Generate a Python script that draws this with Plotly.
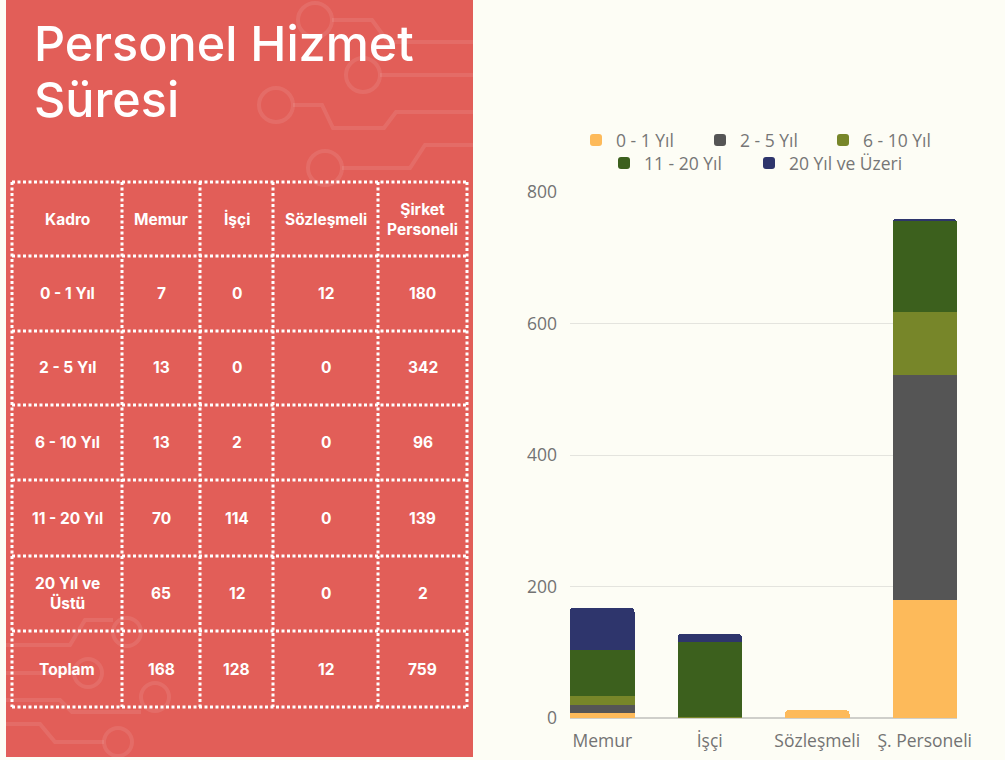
import plotly.graph_objects as go

W, H = 1005, 760

# ---------------- data ----------------
categories = ["Memur", "İşçi", "Sözleşmeli", "Ş. Personeli"]
groups = ["0 - 1 Yıl", "2 - 5 Yıl", "6 - 10 Yıl", "11 - 20 Yıl", "20 Yıl ve Üzeri"]
v_0_1 = [7, 0, 12, 180]
v_2_5 = [13, 0, 0, 342]
v_6_10 = [13, 2, 0, 96]
v_11_20 = [70, 114, 0, 139]
v_20_plus = [65, 12, 0, 2]
series = [v_0_1, v_2_5, v_6_10, v_11_20, v_20_plus]
colors = ["#FDBA5A", "#555555", "#778629", "#3C601D", "#2E356C"]

table_header = ["Kadro", "Memur", "İşçi", "Sözleşmeli", "Şirket<br>Personeli"]
table_rows = ["0 - 1 Yıl", "2 - 5 Yıl", "6 - 10 Yıl", "11 - 20 Yıl", "20 Yıl ve<br>Üstü", "Toplam"]

title_lines = ["Personel Hizmet", "Süresi"]

# --------------- helpers --------------
def px(x):
    return x / W

def py(y):
    return 1 - y / H

legend_ids = ["legend", "legend2", "legend3", "legend4", "legend5"]
legend_pos = [(576, 140), (700, 140), (823, 140), (604, 163), (749, 163)]

fig = go.Figure()

for i, (name, vals, col) in enumerate(zip(groups, series, colors)):
    fig.add_trace(go.Bar(
        x=categories, y=vals, name=name,
        marker=dict(color=col, line=dict(width=0)),
        width=0.6,
        legend=legend_ids[i],
        hoverinfo="x+y+name",
    ))

shapes = []
annotations = []

# red panel
shapes.append(dict(type="rect", xref="paper", yref="paper",
                   x0=px(6), x1=px(473), y0=py(757), y1=py(0),
                   fillcolor="#E25E58", line=dict(width=0), layer="below"))

# faint circuit decoration
deco = dict(color="rgba(255,255,255,0.09)", width=4)

def circ(cx, cy, r):
    shapes.append(dict(type="circle", xref="paper", yref="paper",
                       x0=px(cx - r), x1=px(cx + r), y0=py(cy + r), y1=py(cy - r),
                       line=deco, layer="below"))

def poly(pts):
    d = "M " + " L ".join(f"{px(x)},{py(y)}" for x, y in pts)
    shapes.append(dict(type="path", xref="paper", yref="paper", path=d,
                       line=deco, layer="below"))

circ(315, 20, 17); poly([(332, 20), (372, 20), (388, 42), (473, 42)])
circ(363, 75, 17); poly([(380, 75), (473, 75)])
circ(276, 105, 17); poly([(293, 105), (322, 105), (333, 128), (384, 128), (396, 112), (473, 112)])
circ(325, 168, 17); poly([(342, 168), (410, 168), (425, 145), (473, 145)])
circ(127, 632, 14); poly([(6, 645), (70, 645), (85, 620), (113, 620)])
circ(88, 673, 14); poly([(6, 673), (74, 673)])
circ(155, 697, 14); poly([(6, 700), (60, 700), (72, 712), (141, 712)])
circ(118, 742, 14); poly([(6, 724), (40, 724), (55, 742), (104, 742)])

# table grid
col_x = [12, 122, 200, 273, 378, 467]
row_y = [182, 256, 331, 405, 480, 556, 631, 707]
grid = dict(color="white", width=3, dash="3px,2.5px")
for x in col_x:
    shapes.append(dict(type="line", xref="paper", yref="paper",
                       x0=px(x), x1=px(x), y0=py(row_y[0]), y1=py(row_y[-1]), line=grid))
for y in row_y:
    shapes.append(dict(type="line", xref="paper", yref="paper",
                       x0=px(col_x[0]), x1=px(col_x[-1]), y0=py(y), y1=py(y), line=grid))

cell_font = dict(family="Inter, Roboto, sans-serif", size=15.5, color="white", weight=700)

def cell(text, ci, ri):
    cx = (col_x[ci] + col_x[ci + 1]) / 2
    cy = (row_y[ri] + row_y[ri + 1]) / 2
    annotations.append(dict(text=text, x=px(cx), y=py(cy), xref="paper", yref="paper",
                            showarrow=False, xanchor="center", yanchor="middle",
                            align="center", font=cell_font))

for ci, h in enumerate(table_header):
    cell(h, ci, 0)
totals = [sum(s[j] for s in series) for j in range(len(categories))]
for ri, lab in enumerate(table_rows):
    cell(lab, 0, ri + 1)
    for ci in range(len(categories)):
        val = totals[ci] if ri == len(series) else series[ri][ci]
        cell(str(val), ci + 1, ri + 1)

# title
for i, (t, y) in enumerate(zip(title_lines, [44, 100])):
    annotations.append(dict(text=t, x=px(32), y=py(y), xref="paper", yref="paper",
                            showarrow=False, xanchor="left", yanchor="middle",
                            font=dict(family="Inter, sans-serif", size=48.5, color="white", weight=500)))

axis_font = dict(family="Open Sans, sans-serif", size=17.5, color="#737373")
legend_font = dict(family="Open Sans, sans-serif", size=17.5, color="#767676")

legends = {}
for lid, (lx, ly) in zip(legend_ids, legend_pos):
    legends[lid] = dict(orientation="h", x=px(lx), xanchor="left", y=py(ly), yanchor="middle",
                        font=legend_font, bgcolor="rgba(0,0,0,0)")

fig.update_layout(
    width=W, height=H, autosize=False,
    margin=dict(l=0, r=0, t=0, b=0, pad=0, autoexpand=False),
    paper_bgcolor="#FDFDF5", plot_bgcolor="#FDFDF5",
    barmode="stack", barcornerradius=4,
    shapes=shapes, annotations=annotations,
    xaxis=dict(domain=[px(570), px(957)], range=[-0.3, 3.3], automargin=False,
               showgrid=False, showline=False, zeroline=False,
               tickfont=axis_font, ticks="", ticklabelstandoff=10, fixedrange=True),
    yaxis=dict(domain=[py(718), py(192)], range=[0, 800], dtick=200, automargin=False,
               showgrid=True, gridcolor="#E4E4DE", gridwidth=1,
               zeroline=True, zerolinecolor="#CFCFCA", zerolinewidth=1.5,
               showline=False, tickfont=axis_font, ticks="", ticklabelstandoff=12,
               fixedrange=True),
    showlegend=True,
    **legends,
)

fig.write_html(
    "out.html",
    config={"responsive": False, "displayModeBar": False},
    post_script="document.body.style.margin='0';document.body.style.padding='0';"
                "document.body.style.background='#FDFDF5';",
)
